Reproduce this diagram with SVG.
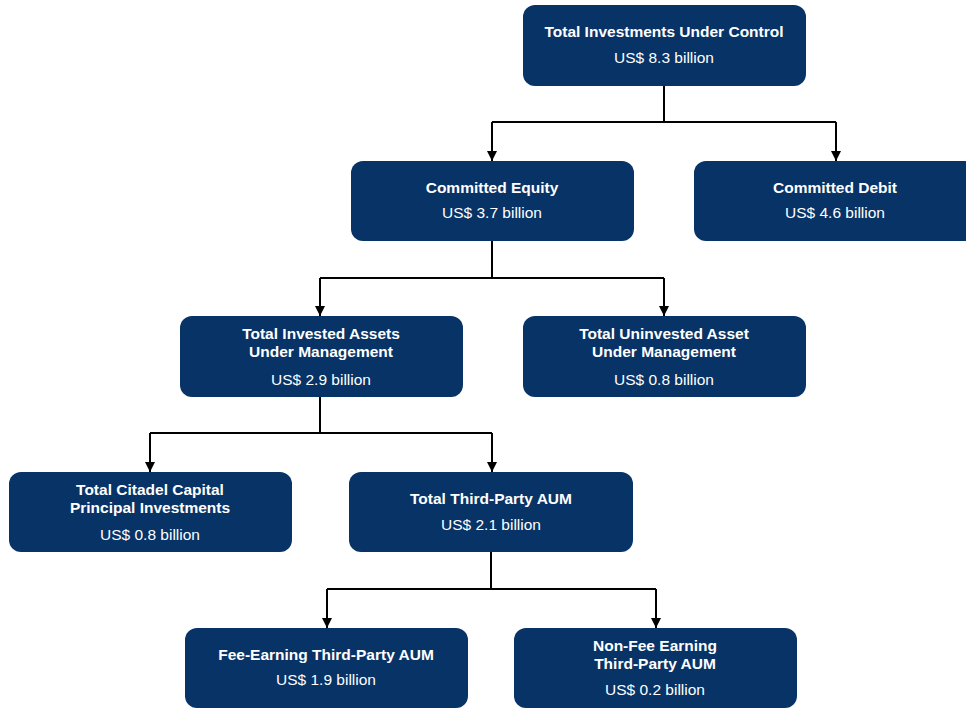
<svg xmlns="http://www.w3.org/2000/svg" width="966" height="709" viewBox="0 0 966 709">
<defs>
<marker id="arr" viewBox="0 0 10 10" refX="10" refY="5" markerWidth="10" markerHeight="10" markerUnits="userSpaceOnUse" orient="auto">
<path d="M0,0 L10,5 L0,10 z" fill="#000"/>
</marker>
<style>
.box{fill:#073366;}
.t{font-family:"Liberation Sans",Arial,sans-serif;font-size:15.5px;font-weight:bold;fill:#fff;text-anchor:middle;}
.v{font-family:"Liberation Sans",Arial,sans-serif;font-size:15.5px;fill:#fff;text-anchor:middle;}
.c{fill:none;stroke:#000;stroke-width:2;}
</style>
</defs>
<rect width="966" height="709" fill="#fff"/>
<g id="connectors">
<path class="c" d="M664,86 V122 M492,122 H836"/>
<path class="c" d="M492,122 V161" marker-end="url(#arr)"/>
<path class="c" d="M836,122 V161" marker-end="url(#arr)"/>
<path class="c" d="M492,241 V278 M320,278 H664"/>
<path class="c" d="M320,278 V316" marker-end="url(#arr)"/>
<path class="c" d="M664,278 V316" marker-end="url(#arr)"/>
<path class="c" d="M320,397 V433 M150,433 H492"/>
<path class="c" d="M150,433 V472" marker-end="url(#arr)"/>
<path class="c" d="M492,433 V472" marker-end="url(#arr)"/>
<path class="c" d="M491,552 V589 M327,589 H656"/>
<path class="c" d="M327,589 V628" marker-end="url(#arr)"/>
<path class="c" d="M656,589 V628" marker-end="url(#arr)"/>
</g>
<g id="n-total">
<rect class="box" x="523" y="5" width="283" height="81" rx="12"/>
<text class="t" x="664" y="37">Total Investments Under Control</text>
<text class="v" x="664" y="63">US$ 8.3 billion</text>
</g>
<g id="n-equity">
<rect class="box" x="351" y="161" width="283" height="80" rx="12"/>
<text class="t" x="492" y="193">Committed Equity</text>
<text class="v" x="492" y="218">US$ 3.7 billion</text>
</g>
<g id="n-debit">
<rect class="box" x="694" y="161" width="284" height="80" rx="12"/>
<text class="t" x="835" y="193">Committed Debit</text>
<text class="v" x="835" y="218">US$ 4.6 billion</text>
</g>
<g id="n-invested">
<rect class="box" x="180" y="316" width="283" height="81" rx="12"/>
<text class="t" x="321" y="339">Total Invested Assets</text>
<text class="t" x="321" y="357">Under Management</text>
<text class="v" x="321" y="385">US$ 2.9 billion</text>
</g>
<g id="n-uninvested">
<rect class="box" x="523" y="316" width="283" height="81" rx="12"/>
<text class="t" x="664" y="339">Total Uninvested Asset</text>
<text class="t" x="664" y="357">Under Management</text>
<text class="v" x="664" y="385">US$ 0.8 billion</text>
</g>
<g id="n-citadel">
<rect class="box" x="9" y="472" width="283" height="80" rx="12"/>
<text class="t" x="150" y="495">Total Citadel Capital</text>
<text class="t" x="150" y="513">Principal Investments</text>
<text class="v" x="150" y="540">US$ 0.8 billion</text>
</g>
<g id="n-thirdparty">
<rect class="box" x="349" y="472" width="284" height="80" rx="12"/>
<text class="t" x="491" y="504">Total Third-Party AUM</text>
<text class="v" x="491" y="530">US$ 2.1 billion</text>
</g>
<g id="n-fee">
<rect class="box" x="185" y="628" width="283" height="80" rx="12"/>
<text class="t" x="326" y="660">Fee-Earning Third-Party AUM</text>
<text class="v" x="326" y="685">US$ 1.9 billion</text>
</g>
<g id="n-nonfee">
<rect class="box" x="514" y="628" width="283" height="80" rx="12"/>
<text class="t" x="655" y="651">Non-Fee Earning</text>
<text class="t" x="655" y="669">Third-Party AUM</text>
<text class="v" x="655" y="695">US$ 0.2 billion</text>
</g>
</svg>
